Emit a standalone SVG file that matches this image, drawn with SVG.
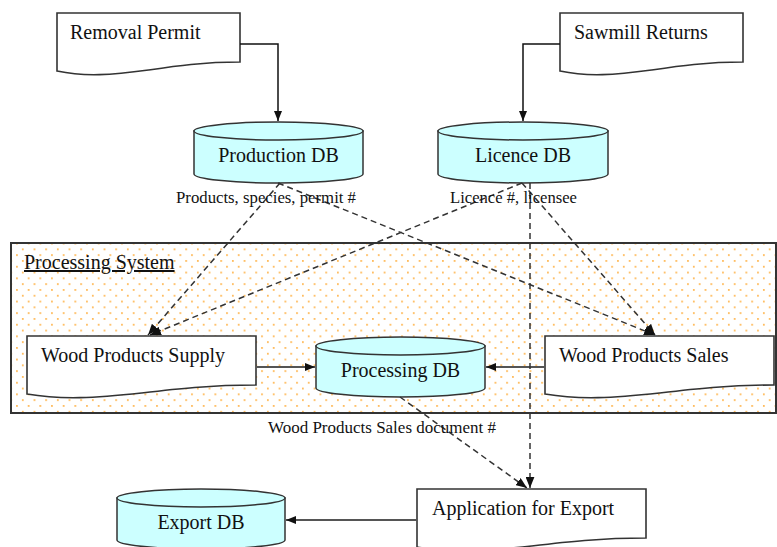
<svg xmlns="http://www.w3.org/2000/svg" width="777" height="547" viewBox="0 0 777 547">
<defs>
<pattern id="dots" x="21.9" y="283.2" width="11.67" height="11.6" patternUnits="userSpaceOnUse">
<rect width="11.67" height="11.6" fill="#ffffff"/>
<circle cx="0.9" cy="0.9" r="0.9" fill="#ffa526"/>
<circle cx="6.73" cy="6.7" r="0.9" fill="#ffa526"/>
</pattern>
<marker id="arr" viewBox="0 0 10 8" refX="10" refY="4" markerWidth="10" markerHeight="8" markerUnits="userSpaceOnUse" orient="auto">
<path d="M0,0 L10,4 L0,8 Z" fill="#111"/>
</marker>
<marker id="arrd" viewBox="0 0 10 8" refX="10" refY="4" markerWidth="11" markerHeight="9" markerUnits="userSpaceOnUse" orient="auto">
<path d="M0,0 L10,4 L0,8 Z" fill="#111"/>
</marker>
</defs>
<style>
.doc{fill:#ffffff;stroke:#333;stroke-width:1.6}
.db{fill:#ccffff;stroke:#333;stroke-width:1.5}
.t{font-family:"Liberation Serif","Times New Roman",serif;font-size:20px;fill:#111}
.lbl{font-family:"Liberation Serif","Times New Roman",serif;font-size:17px;fill:#111}
.solid{fill:none;stroke:#111;stroke-width:1.5}
.solid2{fill:none;stroke:#555;stroke-width:2}
.dash{fill:none;stroke:#333;stroke-width:1.5;stroke-dasharray:6 4}
</style>
<g id="processing-system">
<rect x="11" y="243" width="765" height="170" fill="url(#dots)" stroke="#333" stroke-width="2"/>
<text class="t" x="24" y="269" text-decoration="underline">Processing System</text>
</g>
<g id="removal-permit">
<path class="doc" d="M57,13 H240 V62 C203.4,62 176,66 148.5,70 C111.9,75 84.5,77 57,71 Z"/>
<text class="t" x="70" y="39">Removal Permit</text>
</g>
<g id="sawmill-returns">
<path class="doc" d="M560,13 H743 V62 C706.4,62 679,66 651.5,70 C614.9,75 587.5,77 560,71 Z"/>
<text class="t" x="574" y="39">Sawmill Returns</text>
</g>
<g id="production-db">
<path class="db" d="M194,131 V174 A84.5,9 0 0 0 363,174 V131 Z"/>
<ellipse class="db" cx="278.5" cy="131" rx="84.5" ry="9"/>
<text class="t" x="278.5" y="162" text-anchor="middle">Production DB</text>
</g>
<g id="licence-db">
<path class="db" d="M438,131 V174 A85,9 0 0 0 608,174 V131 Z"/>
<ellipse class="db" cx="523" cy="131" rx="85" ry="9"/>
<text class="t" x="523" y="162" text-anchor="middle">Licence DB</text>
</g>
<g id="wood-products-supply">
<path class="doc" d="M27,336 H256 V385 C210.2,385 175.9,389 141.5,393 C95.7,398 61.4,400 27,394 Z"/>
<text class="t" x="41" y="362">Wood Products Supply</text>
</g>
<g id="processing-db">
<path class="db" d="M316,346 V388 A84.5,9 0 0 0 485,388 V346 Z"/>
<ellipse class="db" cx="400.5" cy="346" rx="84.5" ry="9"/>
<text class="t" x="400.5" y="377" text-anchor="middle">Processing DB</text>
</g>
<g id="wood-products-sales">
<path class="doc" d="M545,336 H774 V385 C728.2,385 693.9,389 659.5,393 C613.7,398 579.4,400 545,394 Z"/>
<text class="t" x="559" y="362">Wood Products Sales</text>
</g>
<g id="export-db">
<path class="db" d="M117,498 V540 A84,9 0 0 0 285,540 V498 Z"/>
<ellipse class="db" cx="201" cy="498" rx="84" ry="9"/>
<text class="t" x="201" y="529" text-anchor="middle">Export DB</text>
</g>
<g id="application-for-export">
<path class="doc" d="M417,489 H646 V538 C600.2,538 565.9,542 531.5,546 C485.7,551 451.4,553 417,547 Z"/>
<text class="t" x="432" y="515">Application for Export</text>
</g>
<g id="connectors">
<path class="solid" d="M240,44 H278 V121" marker-end="url(#arr)"/>
<path class="solid" d="M560,44 H523 V121" marker-end="url(#arr)"/>
<path class="solid2" d="M256,367 H315" marker-end="url(#arr)"/>
<path class="solid2" d="M545,367 H486" marker-end="url(#arr)"/>
<path class="solid2" d="M417,520 H286" marker-end="url(#arr)"/>
<path class="dash" d="M280,183 L148,335" marker-end="url(#arrd)"/>
<path class="dash" d="M278,183 L655,335" marker-end="url(#arrd)"/>
<path class="dash" d="M522,183 L150,335" marker-end="url(#arrd)"/>
<path class="dash" d="M522,183 L655,335" marker-end="url(#arrd)"/>
<path class="dash" d="M530,183 L530,488" marker-end="url(#arrd)"/>
<path class="dash" d="M400,397 L527,488" marker-end="url(#arrd)"/>
<text class="lbl" x="176" y="203" textLength="180" lengthAdjust="spacingAndGlyphs">Products, species, permit #</text>
<text class="lbl" x="450" y="203" textLength="127" lengthAdjust="spacingAndGlyphs">Licence #, licensee</text>
<text class="lbl" x="268" y="433" textLength="228" lengthAdjust="spacingAndGlyphs">Wood Products Sales document #</text>
</g>
</svg>
